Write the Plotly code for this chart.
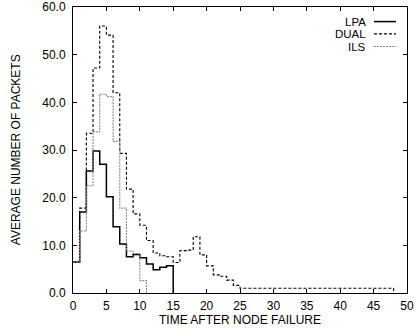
import plotly.graph_objects as go

# ---- data ----
lpa_x = list(range(0, 16))
lpa_y = [6.5, 17.0, 25.6, 29.8, 27.0, 20.2, 13.9, 10.3, 7.6, 8.1, 7.4, 6.1, 4.9, 5.4, 5.7, 0.0]

dual_x = list(range(0, 49))
dual_y = [6.5, 17.8, 33.5, 47.2, 56.0, 54.1, 42.0, 29.3, 21.8, 16.6,
          14.2, 11.0, 8.4, 7.8, 7.6, 6.4, 8.9, 9.0, 11.8, 8.0,
          5.7, 3.8, 3.5, 2.7, 1.6,
          1.0, 1.0, 1.0, 1.0, 1.0, 1.0, 1.0, 1.0, 1.0, 1.0,
          1.0, 1.0, 1.0, 1.0, 1.0, 1.0, 1.0, 1.0, 1.0, 1.0,
          1.0, 1.0, 1.0, 0.0]

ils_x = list(range(0, 12))
ils_y = [6.5, 13.0, 22.5, 33.8, 41.7, 41.2, 31.8, 17.8, 8.8, 8.3, 2.6, 0.0]

series_names = ["LPA", "DUAL", "ILS"]
x_ticks = [0, 5, 10, 15, 20, 25, 30, 35, 40, 45, 50]
y_ticks = [0, 10, 20, 30, 40, 50, 60]

FONT = "Liberation Sans, Arial, Helvetica, sans-serif"

styles = [
    dict(color="#000000", width=1.5, dash="solid"),
    dict(color="#000000", width=1.1, dash="3px,2px"),
    dict(color="#8a8a8a", width=1.1, dash="2px,1px"),
]

fig = go.Figure()
for name, xs, ys, st in zip(series_names, [lpa_x, dual_x, ils_x], [lpa_y, dual_y, ils_y], styles):
    fig.add_trace(go.Scatter(x=xs, y=ys, mode="lines", name=name,
                             line=dict(shape="hv", **st), showlegend=False))

# legend drawn gnuplot-style: text right-aligned, sample to the right
leg_y = [0.949, 0.906, 0.862]
for name, ly, st in zip(series_names, leg_y, styles):
    fig.add_annotation(x=0.880, y=ly, xref="paper", yref="paper", text=name,
                       showarrow=False, xanchor="right", yanchor="middle",
                       height=11, borderpad=0,
                       font=dict(family=FONT, size=11.5, color="#000"))
    fig.add_shape(type="line", xref="paper", yref="paper", x0=0.901, x1=0.967,
                  y0=ly, y1=ly, line=st)

axis_common = dict(showline=True, linecolor="#000", linewidth=1, mirror="ticks",
                   ticks="inside", ticklen=4, tickwidth=1, tickcolor="#000",
                   showgrid=False, zeroline=False, automargin=False,
                   tickfont=dict(family=FONT, size=12, color="#000"))

fig.update_xaxes(range=[0, 50], tickvals=x_ticks, ticktext=[str(v) for v in x_ticks],
                 ticklabelstandoff=2, **axis_common)
fig.update_yaxes(range=[0, 60], tickvals=y_ticks, ticktext=[f"{v:.1f}" for v in y_ticks],
                 ticklabelstandoff=4, **axis_common)

fig.add_annotation(x=0.5, y=-0.093, xref="paper", yref="paper",
                   text="TIME AFTER NODE FAILURE", showarrow=False,
                   xanchor="center", yanchor="middle", height=12, borderpad=0,
                   font=dict(family=FONT, size=12, color="#000"))
fig.add_annotation(x=-0.17, y=0.5, xref="paper", yref="paper",
                   text="AVERAGE NUMBER OF PACKETS", showarrow=False, textangle=-90,
                   xanchor="center", yanchor="middle",
                   font=dict(family=FONT, size=12, color="#000"))

fig.update_layout(width=415, height=329, autosize=False,
                  margin=dict(l=73, r=8, t=7, b=36, autoexpand=False),
                  paper_bgcolor="white", plot_bgcolor="white")

fig.write_html("out.html")
